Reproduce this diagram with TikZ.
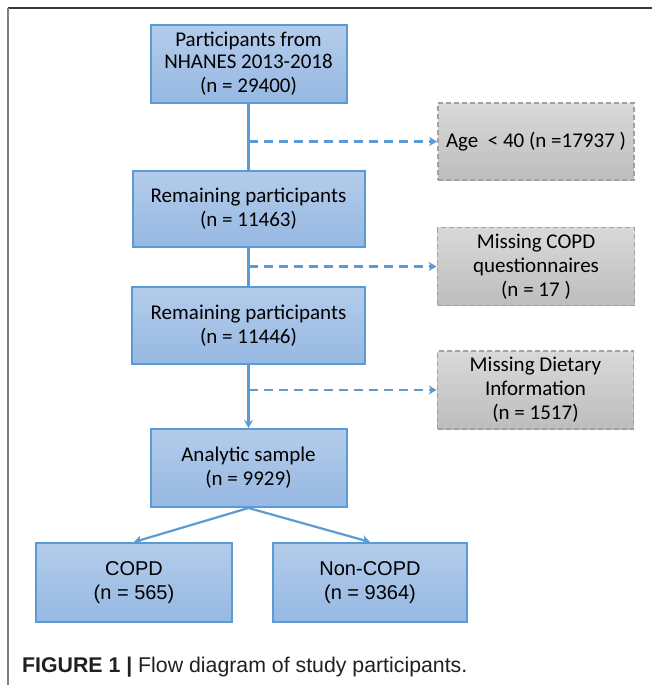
\documentclass[tikz,border=0pt]{standalone}
\usepackage{fontspec}
\setmainfont{Carlito}
\newfontfamily\arialfont{Liberation Sans}
\usetikzlibrary{arrows.meta}
\definecolor{bborder}{HTML}{5B9BD5}
\definecolor{btop}{HTML}{B3CCEB}
\definecolor{bbot}{HTML}{96B8E2}
\definecolor{gtop}{HTML}{D9D9D9}
\definecolor{gbot}{HTML}{BDBDBD}
\definecolor{gborder}{HTML}{A0A0A0}
\definecolor{conncol}{HTML}{5B9BD5}
\definecolor{frametop}{HTML}{3A3A3A}
\definecolor{frameleft}{HTML}{808080}
\definecolor{captext}{HTML}{231F20}
\tikzset{
  bluebox/.style={draw=bborder, line width=2pt, top color=btop, bottom color=bbot,
    align=center, inner sep=0pt, text=black,
    font=\fontsize{21}{24}\selectfont},
  graybox/.style={draw=gborder, line width=1.8pt, dash pattern=on 5pt off 3pt,
    top color=gtop, bottom color=gbot, align=center, inner sep=0pt, text=black,
    font=\fontsize{21}{24}\selectfont},
  resultbox/.style={bluebox, font=\arialfont\fontsize{20}{27}\selectfont},
  conn/.style={draw=conncol, line width=2.2pt},
  connarrow/.style={conn, -{Stealth[length=8pt,width=9pt,inset=2.5pt]}},
  dashconn/.style={connarrow, dash pattern=on 9pt off 6pt}
}
\begin{document}
\begin{tikzpicture}[x=1pt,y=-1pt]
\useasboundingbox (0,0) rectangle (652,685);
\fill[white] (0,0) rectangle (652,685);
% frame
\coordinate (ftl) at (8,8);
\coordinate (ftr) at (652,8);
\coordinate (fbl) at (8,685);
\draw[frametop, line width=2pt] (ftl) -- (ftr);
\draw[frameleft, line width=1.5pt] (ftl) -- (fbl);

% main boxes
\node[bluebox, minimum width=196pt, minimum height=78pt] (b1) at (248.5,64)
  {\raisebox{-2pt}{Participants from}\\NHANES 2013-2018\\(n = 29400)};
\node[bluebox, minimum width=232pt, minimum height=76pt] (b2) at (248.5,209)
  {Remaining participants\\(n = 11463)};
\node[bluebox, minimum width=233pt, minimum height=77pt] (b3) at (248.5,325.5)
  {Remaining participants\\(n = 11446)};
\node[bluebox, minimum width=196pt, minimum height=78pt] (b4) at (248.5,468)
  {Analytic sample\\(n = 9929)};

% exclusion boxes
\node[graybox, minimum width=196pt, minimum height=77pt] (g1) at (536,141.5)
  {Age\ \ {<} 40 (n =17937 )};
\node[graybox, minimum width=197pt, minimum height=78pt] (g2) at (536,266.5)
  {Missing COPD\\questionnaires\\(n = 17 )};
\node[graybox, minimum width=196pt, minimum height=78pt] (g3) at (535.5,390)
  {Missing Dietary\\Information\\(n = 1517)};

% result boxes
\node[resultbox, minimum width=196pt, minimum height=79pt] (c1) at (134,582.5)
  {\raisebox{-3pt}{COPD}\\(n = 565)};
\node[resultbox, minimum width=194pt, minimum height=79pt] (c2) at (370,582.5)
  {\raisebox{-3pt}{Non-COPD}\\(n = 9364)};

% trunk
\draw[conn] (b1.south) -- (b2.north);
\draw[conn] (b2.south) -- (b3.north);
\draw[connarrow] (b3.south) -- (b4.north);

% exclusions
\draw[dashconn] (b1.south |- g1.west) -- (g1.west);
\draw[dashconn] (b2.south |- g2.west) -- (g2.west);
\draw[dashconn] (b3.south |- g3.west) -- (g3.west);

% split
\draw[connarrow] (b4.south) -- (c1.north);
\draw[connarrow] (b4.south) -- (c2.north);

% caption
\node[anchor=base west, inner sep=0pt, text=captext,
  font=\arialfont\fontsize{21.3}{24}\selectfont] (cap) at (22,672)
  {\textbf{FIGURE 1 |} Flow diagram of study participants.};
\end{tikzpicture}
\end{document}
